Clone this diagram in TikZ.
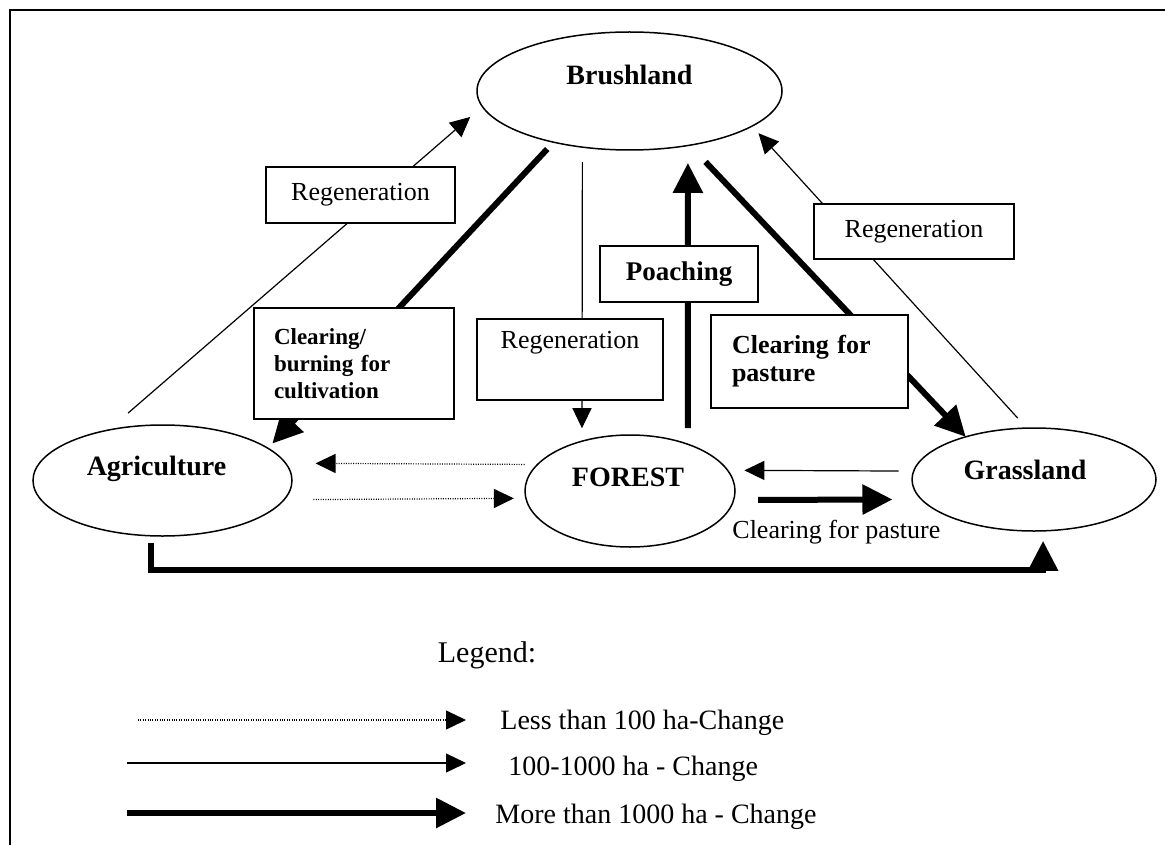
\documentclass[tikz,border=0pt]{standalone}
\usepackage{fontspec}
\setmainfont{Liberation Serif}
\usetikzlibrary{shapes.geometric,arrows.meta}

\tikzset{
  land/.style={draw, ellipse, line width=0.75pt, inner sep=0pt, outer sep=0pt},
  landtxt/.style={font=\bfseries\fontsize{14}{16}\selectfont},
  box/.style={draw, fill=white, line width=0.8pt, inner sep=0pt, outer sep=0pt, align=center, font=\fontsize{13}{15.6}\selectfont},
  bbox/.style={box, font=\bfseries\fontsize{13}{14}\selectfont},
  txt/.style={inner sep=0pt, font=\fontsize{13}{15.6}\selectfont},
  lgdtxt/.style={inner sep=0pt, font=\fontsize{14}{16.8}\selectfont},
  thinarrow/.style={line width=0.6pt, -{Triangle[length=10pt,width=9.5pt]}},
  thickarrow/.style={line width=3pt, -{Triangle[length=15pt,width=14.5pt]}},
  dotarrow/.style={line width=0.6pt, dash pattern=on 0.5pt off 0.7pt, -{Triangle[length=10pt,width=9.5pt]}},
}

\begin{document}
\begin{tikzpicture}[x=0.5pt, y=-0.5pt]
    \useasboundingbox (0,0) rectangle (1165,845);
    % cadre
    \draw[line width=1pt] (10,845) -- (10,10.5) -- (1165,10.5);
    % occupations du sol
    \node[land, minimum width=152.5pt, minimum height=59pt,
      label={[landtxt, name=brushtxt, yshift=8pt]center:Brushland}] (brush) at (629.5,91) {};
    \node[land, minimum width=129.5pt, minimum height=55.5pt,
      label={[landtxt, name=agritxt, xshift=-3pt, yshift=6pt]center:Agriculture}] (agri) at (162.5,480.5) {};
    \node[land, minimum width=105pt, minimum height=56pt,
      label={[landtxt, name=foresttxt, xshift=-1pt, yshift=7pt]center:FOREST}] (forest) at (630,491) {};
    \node[land, minimum width=122pt, minimum height=51.5pt,
      label={[landtxt, name=grasstxt, xshift=-4.5pt, yshift=4.75pt]center:Grassland}] (grass) at (1034,479.5) {};
    % transitions
    \draw[thinarrow, shorten <=13pt, shorten >=8pt] (agri.137) -- (brush.186);
    \draw[thickarrow, shorten <=4.7pt, shorten >=3.2pt] (brush.214) -- (agri.17);
    \draw[thinarrow, shorten <=7.5pt, shorten >=6.5pt] (brush.230) -- (forest.134);
    \draw[thickarrow, shorten <=8pt, shorten >=8.75pt] (forest.39) -- (brush.317);
    \draw[thickarrow, shorten <=11.5pt] (brush.318) -- (grass.148);
    \draw[thinarrow, shorten <=6.75pt, shorten >=4.8pt] (grass.98) -- (brush.344);
    \draw[dotarrow, shorten <=6.5pt, shorten >=15pt] (forest.164) -- (agri.8);
    \draw[dotarrow, shorten <=14.7pt, shorten >=6pt] (agri.351) -- (forest.184);
    \draw[thinarrow, shorten <=7.5pt, shorten >=8.4pt] (grass.176) -- (forest.12);
    \draw[thickarrow, shorten <=12.2pt, shorten >=14.5pt] (forest.355) -- (grass.190);
    \draw[thickarrow, shorten <=3.5pt, shorten >=5pt] (agri.258) -- ++(0,34) -| (grass.280);
    % etiquettes
    \node[box, minimum width=94.5pt, minimum height=28pt] (regL) at (360.5,195) {Regeneration};
    \node[box, minimum width=93pt, minimum height=40.5pt, text height=9pt, text depth=20pt] (regM) at (570,359.5) {Regeneration};
    \node[box, minimum width=100pt, minimum height=27.5pt] (regR) at (914,231.5) {Regeneration};
    \node[bbox, font=\bfseries\fontsize{13.5}{16}\selectfont, minimum width=79pt, minimum height=28pt] (poach) at (679,274) {Poaching};
    \node[bbox, font=\bfseries\fontsize{11.5}{13.5}\selectfont, minimum width=100pt, minimum height=55.5pt,
      text width=80pt, align=left] (clearL) at (354,363.5) {Clearing/\\burning for\\cultivation};
    \node[bbox, minimum width=98.5pt, minimum height=46.5pt, text width=77.5pt, align=left] (clearR) at (809.5,361.5) {Clearing for\\pasture};
    \node[txt, anchor=west] (pastlbl) at (732,532) {Clearing for pasture};
    % legende
    \node[font=\fontsize{15}{18}\selectfont] (legend) at (487,655) {Legend:};
    \coordinate (l1a) at (138,720);
    \coordinate (l1b) at (466,720);
    \coordinate (l2a) at (127,763);
    \coordinate (l2b) at (466,763);
    \coordinate (l3a) at (127,813);
    \coordinate (l3b) at (466,813);
    \draw[dotarrow] (l1a) -- (l1b);
    \draw[thinarrow] (l2a) -- (l2b);
    \draw[thickarrow] (l3a) -- (l3b);
    \node[lgdtxt, anchor=west] (lgd1) at (500,723) {Less than 100 ha-Change};
    \node[lgdtxt, anchor=west] (lgd2) at (508,769) {100-1000 ha - Change};
    \node[lgdtxt, anchor=west] (lgd3) at (495,817) {More than 1000 ha - Change};
\end{tikzpicture}
\end{document}
